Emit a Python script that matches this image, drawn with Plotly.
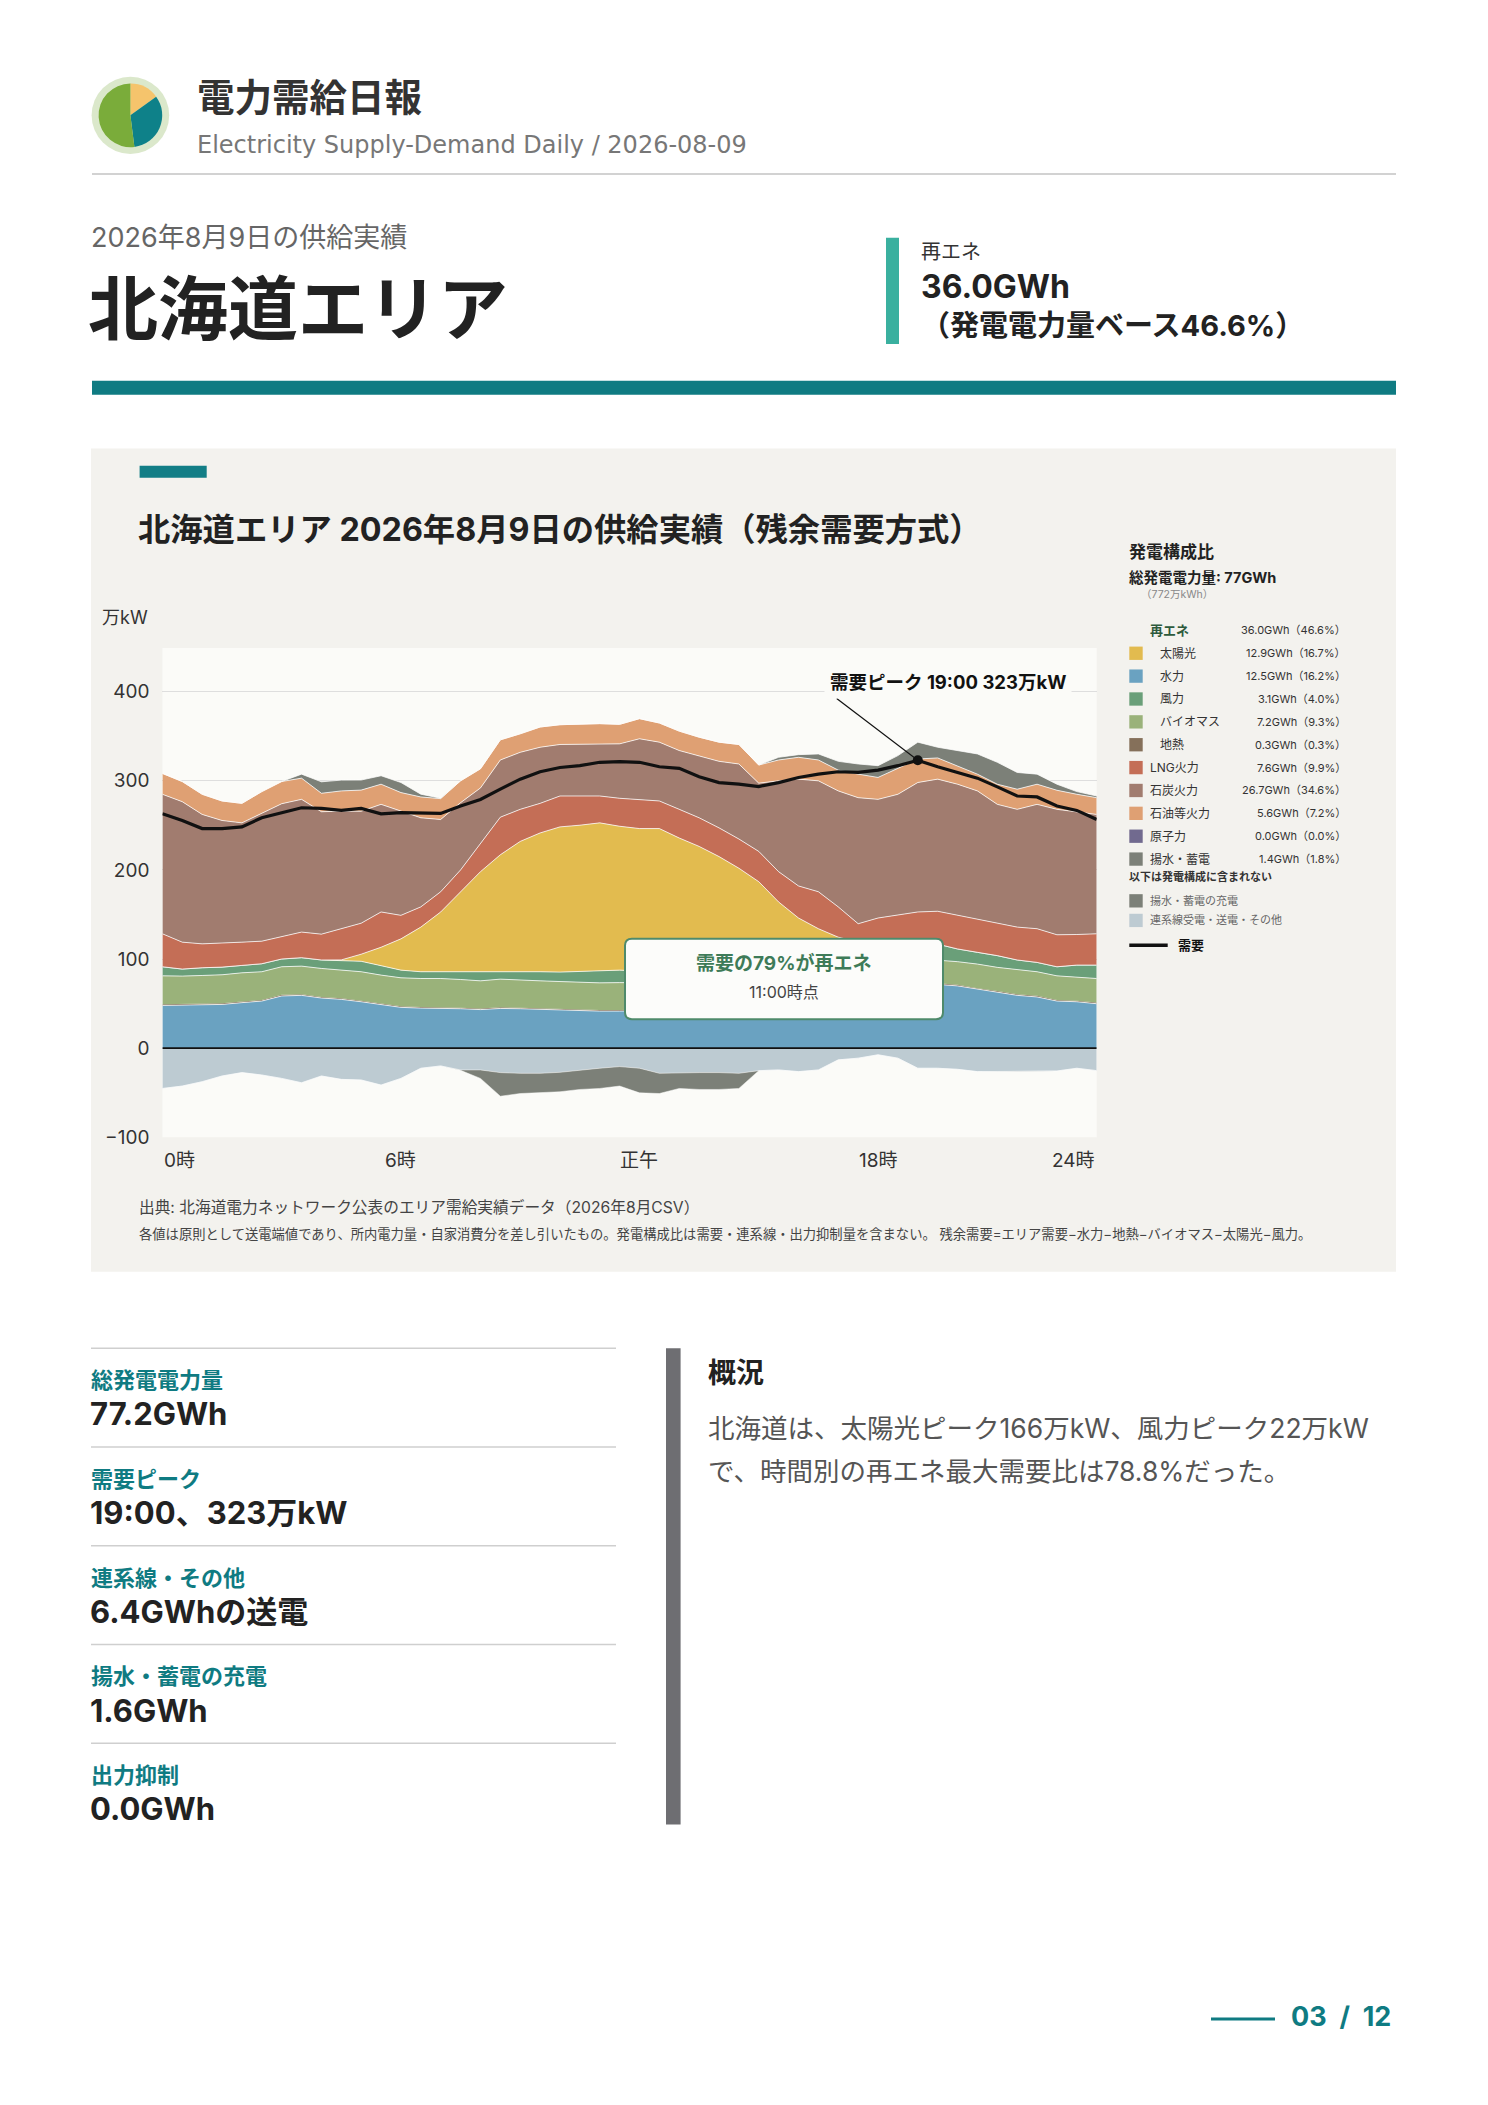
import plotly.graph_objects as go

PAGE_W, PAGE_H = 1488, 2105
FONT = "Inter, Noto Sans CJK JP, sans-serif"
TEAL = "#0f7b82"

# ---- half-hourly results, 万kW (0:00 .. 23:30) ----
HOURS = [i / 2 for i in range(48)]  # x slots, one per half hour

HYDRO = [47.9, 48.3, 48.7, 49.0, 51.0, 52.8, 58.5, 59.2, 56.2, 54.7,
         52.0, 49.0, 45.7, 44.9, 44.9, 44.2, 43.2, 44.5, 44.2, 43.4,
         42.6, 41.9, 41.5, 41.5, 41.5, 42.0, 43.0, 45.0, 48.0, 51.0,
         54.0, 57.0, 60.0, 63.0, 66.0, 68.0, 70.0, 71.0, 71.5, 71.5,
         69.8, 66.0, 63.0, 59.2, 57.4, 52.8, 52.0, 49.8]
GEOTHERMAL = [1.3, 1.3, 1.2, 1.3, 1.2, 1.2, 1.3, 1.2, 1.2, 1.3,
              1.2, 1.2, 1.3, 1.2, 1.2, 1.2, 1.3, 1.2, 1.2, 1.2,
              1.3, 1.2, 1.2, 1.2, 1.2, 1.3, 1.2, 1.2, 1.2, 1.3,
              1.2, 1.2, 1.2, 1.3, 1.2, 1.2, 1.2, 1.3, 1.2, 1.2,
              1.3, 1.2, 1.2, 1.2, 1.3, 1.2, 1.2, 1.3]
BIOMASS = [31.9, 31.2, 31.6, 32.0, 32.3, 31.7, 31.5, 31.6, 32.0, 31.9,
           32.5, 31.7, 31.9, 32.0, 32.0, 31.6, 31.0, 31.7, 30.8, 30.9,
           30.8, 30.5, 30.5, 30.8, 30.3, 29.9, 29.8, 29.6, 29.3, 28.9,
           28.8, 28.4, 28.1, 27.7, 27.5, 27.2, 26.8, 26.4, 26.2, 26.0,
           25.9, 27.1, 26.4, 27.5, 27.0, 27.1, 26.8, 27.0]
WIND = [10.2, 7.9, 8.7, 8.6, 8.3, 9.0, 8.7, 9.5, 9.5, 10.6,
        11.7, 10.6, 8.6, 7.6, 7.6, 8.7, 10.2, 9.0, 9.5, 10.2,
        10.6, 12.4, 13.6, 14.0, 13.5, 13.0, 13.0, 13.5, 14.0, 14.5,
        15.0, 15.5, 16.0, 17.0, 18.0, 19.0, 20.0, 21.0, 22.0, 18.0,
        14.3, 13.2, 13.2, 11.0, 10.5, 10.2, 13.2, 15.1]
SOLAR = [0, 0, 0, 0, 0, 0, 0, 0, 0, 0.5,
         8.0, 20.7, 35.1, 50.1, 67.1, 89.8, 112.3, 130.6, 146.3, 155.8,
         163.0, 164.2, 166.0, 161.5, 159.9, 160.2, 148.8, 137.1, 122.5, 106.2,
         87.8, 61.9, 40.7, 25.0, 11.8, 3.6, 1.0, 0.2, 0, 0,
         0, 0, 0, 0, 0, 0, 0, 0]
LNG = [37.0, 30.2, 26.8, 26.8, 26.1, 25.3, 25.3, 28.7, 29.0, 35.0,
       34.8, 39.6, 26.4, 22.7, 22.7, 24.5, 32.0, 42.2, 36.0, 33.2,
       34.7, 32.8, 30.2, 31.4, 32.1, 31.0, 32.2, 32.1, 32.2, 32.8,
       34.0, 34.0, 36.0, 41.5, 34.0, 20.6, 27.0, 29.9, 31.9, 36.9,
       37.7, 37.0, 35.8, 36.9, 37.8, 35.9, 34.3, 35.1]
COAL = [156.6, 157.7, 145.3, 137.8, 133.9, 143.4, 149.0, 149.0, 137.4, 132.0,
        125.7, 120.8, 117.0, 100.0, 81.1, 75.5, 62.0, 64.2, 64.0, 63.0,
        57.8, 57.8, 57.8, 61.1, 68.7, 66.0, 66.0, 69.8, 74.7, 84.2,
        76.6, 102.0, 119.9, 124.5, 130.2, 141.5, 133.2, 135.1, 145.3, 148.3,
        147.2, 144.2, 134.0, 132.2, 139.6, 140.8, 137.8, 134.0]
OIL = [23.4, 22.6, 22.6, 21.9, 21.9, 24.5, 24.9, 23.8, 20.7, 22.7,
       23.7, 22.6, 20.8, 23.4, 23.4, 24.5, 21.5, 22.6, 20.8, 22.7,
       22.2, 22.6, 23.4, 21.9, 22.6, 21.5, 21.8, 20.7, 21.5, 21.9,
       20.3, 23.4, 24.5, 23.4, 23.3, 26.4, 24.6, 29.1, 26.4, 23.8,
       20.8, 18.8, 22.6, 22.6, 22.6, 21.4, 19.6, 18.8]
PUMPED_GEN = [0, 0, 0, 0, 0, 0, 0, 4.5, 12.9, 12.1,
              11.3, 9.5, 11.3, 3.1, 0.5, 0, 0, 0, 0, 0,
              0, 0, 0, 0, 0, 0, 0, 0, 0, 0,
              0, 3.0, 3.0, 6.8, 9.9, 11.4, 13.2, 14.3, 18.9, 12.0,
              17.0, 22.7, 24.6, 18.8, 11.3, 6.8, 3.0, 1.9]
INTERCONNECT = [-45.3, -42.6, -37.7, -31.3, -27.5, -30.2, -34.0, -38.9, -31.3, -35.1,
                -35.8, -41.5, -34.0, -22.6, -20.0, -24.5, -24.5, -27.5, -28.3, -28.3,
                -27.2, -24.5, -22.6, -20.8, -22.6, -28.3, -27.5, -27.5, -27.5, -28.3,
                -25.3, -24.5, -26.4, -24.5, -13.2, -11.3, -7.5, -11.3, -22.6, -22.6,
                -23.8, -26.4, -26.4, -26.4, -26.4, -25.7, -22.6, -25.3]
PUMPED_CHG = [0, 0, 0, 0, 0, 0, 0, 0, 0, 0,
              0, 0, 0, 0, 0, -0.5, -9.5, -26.5, -22.7, -21.9,
              -21.8, -21.9, -22.7, -21.8, -27.6, -22.7, -17.8, -18.9, -18.9, -17.0,
              0, 0, 0, 0, 0, 0, 0, 0, 0, 0,
              0, 0, 0, 0, 0, 0, 0, 0]
DEMAND = [263.0, 255.5, 246.4, 246.4, 248.3, 258.5, 264.2, 269.8, 269.0, 266.8,
          269.0, 263.0, 264.2, 263.4, 263.4, 271.7, 279.0, 290.6, 301.9, 310.2,
          315.0, 317.0, 320.8, 321.5, 320.8, 315.8, 314.0, 304.5, 298.0, 296.2,
          293.6, 298.0, 303.8, 307.5, 310.2, 309.4, 312.0, 317.0, 323.0, 315.8,
          309.4, 303.0, 293.2, 283.0, 281.9, 271.7, 266.8, 256.6]

Y_TICKS = [-100, 0, 100, 200, 300, 400]
X_TICKS = [0, 6, 12, 18, 23.5]
X_TICK_TEXT = ["0時", "6時", "正午", "18時", "24時"]

# generation mix panel
MIX_NAMES = ["太陽光", "水力", "風力", "バイオマス", "地熱",
             "LNG火力", "石炭火力", "石油等火力", "原子力", "揚水・蓄電"]
MIX_GWH = [12.9, 12.5, 3.1, 7.2, 0.3, 7.6, 26.7, 5.6, 0.0, 1.4]
MIX_PCT = [16.7, 16.2, 4.0, 9.3, 0.3, 9.9, 34.6, 7.2, 0.0, 1.8]
MIX_RENEWABLE = [True, True, True, True, True, False, False, False, False, False]
RE_GWH, RE_PCT = 36.0, 46.6

KPI_LABELS = ["総発電電力量", "需要ピーク", "連系線・その他", "揚水・蓄電の充電", "出力抑制"]
KPI_VALUES = ["77.2GWh", "19:00、323万kW", "6.4GWhの送電", "1.6GWh", "0.0GWh"]

LOGO_SHARES = [15, 33, 52]

COLORS = {
    "太陽光": "#e2bb4f", "水力": "#6aa2c1", "風力": "#6a9f79", "バイオマス": "#9ab27a",
    "地熱": "#85705a", "LNG火力": "#c46e56", "石炭火力": "#a17c6f", "石油等火力": "#dfa073",
    "原子力": "#716a8f", "揚水・蓄電": "#7c8078", "揚水・蓄電の充電": "#7c8078",
    "連系線受電・送電・その他": "#bdcbd2",
}

# ---- page geometry (px) ----
PLOT_L, PLOT_R = 162.4, 1096.7
PLOT_T, PLOT_B = 651.8, 1143.7
Y_MIN, Y_MAX = -100, 449


def px(x):
    return x / PAGE_W


def py(y):
    return 1 - y / PAGE_H


def data_px(h, v):
    x = PLOT_L + (PLOT_R - PLOT_L) * h / HOURS[-1]
    y = PLOT_B - (PLOT_B - PLOT_T) * (v - Y_MIN) / (Y_MAX - Y_MIN)
    return x, y


fig = go.Figure()


def rect(x0, y0, x1, y1, color, layer="below"):
    fig.add_shape(type="rect", xref="paper", yref="paper", x0=px(x0), x1=px(x1),
                  y0=py(y1), y1=py(y0), fillcolor=color, line_width=0, layer=layer)


def hline(x0, x1, y, color, width):
    fig.add_shape(type="line", xref="paper", yref="paper", x0=px(x0), x1=px(x1),
                  y0=py(y), y1=py(y), line=dict(color=color, width=width), layer="above")


def label(x, y, text, size, color="#333", bold=False, xanchor="left", family=FONT, **kw):
    fig.add_annotation(x=px(x), y=py(y), xref="paper", yref="paper", text=text,
                       showarrow=False, xanchor=xanchor, yanchor="middle",
                       font=dict(family=family, size=size, color=color,
                                 weight="bold" if bold else "normal"), **kw)


# ---- header ----
fig.add_shape(type="circle", xref="paper", yref="paper",
              x0=px(130.4 - 38.8), x1=px(130.4 + 38.8), y0=py(116 + 38.8), y1=py(116 - 38.8),
              fillcolor="#dbe8cb", line_width=0, layer="below")
fig.add_trace(go.Pie(values=LOGO_SHARES, sort=False, direction="clockwise",
                     marker=dict(colors=["#f5c46c", "#0e8189", "#7aac3a"], line=dict(width=0)),
                     textinfo="none", hoverinfo="skip", showlegend=False,
                     domain=dict(x=[px(130.4 - 32), px(130.4 + 32)], y=[py(116 + 32), py(116 - 32)])))
label(195, 98, "電力需給日報", 37.5, "#333", bold=True)
label(195, 146, "Electricity Supply-Demand Daily / 2026-08-09", 24, "#777",
      family="DejaVu Sans, sans-serif")
hline(92, 1396, 175, "#d2d2d2", 2)

label(89, 238.5, "2026年8月9日の供給実績", 27, "#666")
label(86, 311, "北海道エリア", 70, "#222", bold=True)
rect(886, 239, 899, 346, "#3ab09f")
label(919, 253, "再エネ", 20, "#333")
label(919, 288, "36.0GWh", 32, "#222", bold=True)
label(919, 327, "（発電電力量ベース46.6%）", 29, "#222", bold=True)
rect(92, 383, 1396, 397, TEAL)

# ---- chart panel ----
rect(91, 451, 1396, 1279, "#f3f2ee")
rect(PLOT_L, PLOT_T, PLOT_R, PLOT_B, "#fbfbf8")
rect(139.6, 468.5, 206.7, 480.6, "#127e86")
label(136, 533, "北海道エリア 2026年8月9日の供給実績（残余需要方式）", 32.3, "#222", bold=True)
label(100, 621.5, "万kW", 18, "#333")

pos_stack = [("水力", HYDRO), ("地熱", GEOTHERMAL), ("バイオマス", BIOMASS), ("風力", WIND),
             ("太陽光", SOLAR), ("LNG火力", LNG), ("石炭火力", COAL), ("石油等火力", OIL),
             ("揚水・蓄電", PUMPED_GEN)]
for name, vals in pos_stack:
    fig.add_trace(go.Scatter(x=HOURS, y=vals, name=name, mode="lines", stackgroup="pos",
                             line=dict(color="rgba(255,255,255,0.75)", width=0 if name == "地熱" else 1),
                             fillcolor=COLORS[name], hoverinfo="skip", showlegend=False))
neg_stack = [("連系線受電・送電・その他", INTERCONNECT), ("揚水・蓄電の充電", PUMPED_CHG)]
for name, vals in neg_stack:
    fig.add_trace(go.Scatter(x=HOURS, y=vals, name=name, mode="lines", stackgroup="neg",
                             line=dict(color="rgba(255,255,255,0.6)", width=0.8),
                             fillcolor=COLORS[name], hoverinfo="skip", showlegend=False))
fig.add_trace(go.Scatter(x=HOURS, y=DEMAND, name="需要", mode="lines",
                         line=dict(color="#111", width=3.2), hoverinfo="skip", showlegend=False))

peak_i = DEMAND.index(max(DEMAND))
fig.add_trace(go.Scatter(x=[HOURS[peak_i]], y=[DEMAND[peak_i]], mode="markers",
                         marker=dict(color="#111", size=10), hoverinfo="skip", showlegend=False))

fig.add_shape(type="line", xref="x", yref="y", x0=0, x1=HOURS[-1], y0=0, y1=0,
              line=dict(color="#111", width=1.8), layer="above")

# peak callout
peak_x, peak_y = data_px(HOURS[peak_i], DEMAND[peak_i])
fig.add_shape(type="line", xref="paper", yref="paper", x0=px(836.7), y0=py(702.5),
              x1=px(peak_x), y1=py(peak_y), line=dict(color="#111", width=1.2), layer="above")
label(948, 686, "需要ピーク 19:00 323万kW", 18.5, "#111", bold=True, xanchor="center",
      bgcolor="#fbfbf8", borderpad=5)

# renewable share box
bx0, by0, bx1, by1, r = 625, 944, 943, 1025, 7
pts = lambda x, y: f"{px(x):.5f},{py(y):.5f}"
path = (f"M {pts(bx0 + r, by0)} L {pts(bx1 - r, by0)} Q {pts(bx1, by0)} {pts(bx1, by0 + r)} "
        f"L {pts(bx1, by1 - r)} Q {pts(bx1, by1)} {pts(bx1 - r, by1)} "
        f"L {pts(bx0 + r, by1)} Q {pts(bx0, by1)} {pts(bx0, by1 - r)} "
        f"L {pts(bx0, by0 + r)} Q {pts(bx0, by0)} {pts(bx0 + r, by0)} Z")
fig.add_shape(type="path", xref="paper", yref="paper", path=path, fillcolor="#fcfcfa",
              line=dict(color="#4f8a6b", width=2), layer="above")
label(784, 969.5, "需要の79%が再エネ", 19, "#3e7b58", bold=True, xanchor="center")
label(784, 997.5, "11:00時点", 16, "#444", xanchor="center")

for h, t in zip(X_TICKS, X_TICK_TEXT):
    anchor = "left" if h == X_TICKS[0] else ("right" if h == X_TICKS[-1] else "center")
    fig.add_annotation(x=h, y=py(1167), xref="x", yref="paper", text=t, showarrow=False,
                       xanchor=anchor, yanchor="middle", font=dict(family=FONT, size=19, color="#333"))

# mix legend
label(1127, 555, "発電構成比", 17, "#222", bold=True)
label(1127, 581, "総発電電力量: 77GWh", 14.5, "#222", bold=True)
label(1139, 597.5, "（772万kWh）", 10.5, "#888")
label(1148, 634, "再エネ", 13, "#2d5a3c", bold=True)
label(1348, 634, f"{RE_GWH:.1f}GWh（{RE_PCT:.1f}%）", 11, "#333", xanchor="right")
for k, name in enumerate(MIX_NAMES):
    yy = 657 + 23 * k
    rect(1129.3, yy - 6.7, 1142.7, yy + 6.7, COLORS[name], layer="above")
    label(1158 if MIX_RENEWABLE[k] else 1148, yy, name, 12, "#333")
    label(1348, yy, f"{MIX_GWH[k]:.1f}GWh（{MIX_PCT[k]:.1f}%）", 11, "#333", xanchor="right")
label(1127, 882, "以下は発電構成に含まれない", 11, "#333", bold=True)
for k, name in enumerate(["揚水・蓄電の充電", "連系線受電・送電・その他"]):
    yy = 906 + 19.7 * k
    rect(1129.3, yy - 6.7, 1142.7, yy + 6.7, COLORS[name], layer="above")
    label(1148, yy, name, 11, "#666")
hline(1129.3, 1167.7, 950.7, "#111", 3.5)
label(1176, 950.7, "需要", 13, "#111", bold=True)

label(137, 1214.5, "出典: 北海道電力ネットワーク公表のエリア需給実績データ（2026年8月CSV）", 15.7, "#444")
label(137, 1241.5, "各値は原則として送電端値であり、所内電力量・自家消費分を差し引いたもの。"
      "発電構成比は需要・連系線・出力抑制量を含まない。 残余需要=エリア需要−水力−地熱−バイオマス−太陽光−風力。",
      13.3, "#444")

# ---- KPI column ----
for k, (lab, val) in enumerate(zip(KPI_LABELS, KPI_VALUES)):
    top = 1356 + 99.3 * k
    hline(91, 616, top, "#cfcfcf", 1.5)
    label(89, top + 32, lab, 22, TEAL, bold=True)
    label(88, top + 66, val, 31, "#222", bold=True)

rect(666, 1356, 680.6, 1835, "#6e6e72")
label(706, 1381, "概況", 28, "#222", bold=True)
label(706, 1436, "北海道は、太陽光ピーク166万kW、風力ピーク22万kW", 26.5, "#555")
label(706, 1479, "で、時間別の再エネ最大需要比は78.8%だった。", 26.5, "#555")

hline(1211, 1275, 2030.5, TEAL, 3)
label(1289, 2028.5, "03&nbsp;&nbsp;/&nbsp;&nbsp;12", 27, TEAL, bold=True)

fig.update_layout(
    width=PAGE_W, height=PAGE_H, margin=dict(l=0, r=0, t=0, b=0),
    paper_bgcolor="white", plot_bgcolor="rgba(0,0,0,0)",
    font=dict(family=FONT, color="#333"), showlegend=False,
    xaxis=dict(domain=[px(PLOT_L), px(PLOT_R)], range=[0, HOURS[-1]], showgrid=False,
               zeroline=False, showticklabels=False, ticks="", fixedrange=True),
    yaxis=dict(domain=[py(PLOT_B), py(PLOT_T)], range=[Y_MIN, Y_MAX], tickvals=Y_TICKS,
               showgrid=True, gridcolor="#dedede", gridwidth=1, zeroline=False, ticks="",
               tickfont=dict(size=19, color="#333"), ticklabelstandoff=12, fixedrange=True),
)

fig.write_html("out.html", config={"displayModeBar": False},
               post_script="document.body.style.margin='0';document.body.style.overflow='hidden';")
